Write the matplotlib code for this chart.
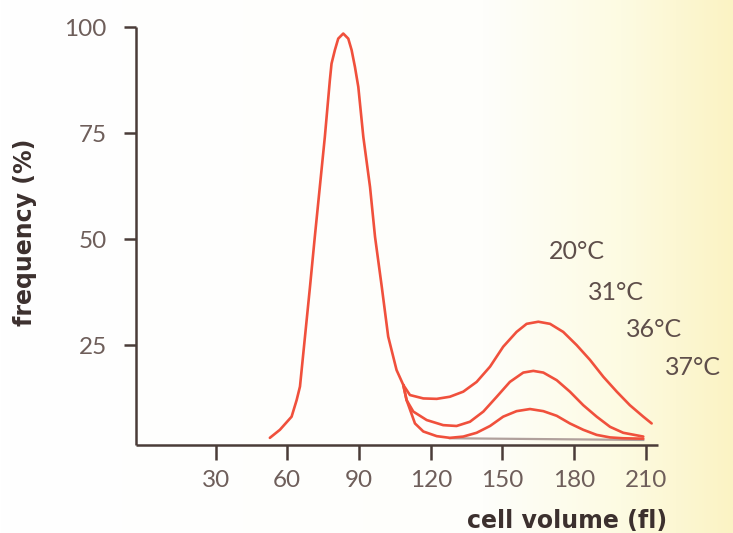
import numpy as np
import matplotlib.pyplot as plt
from matplotlib.colors import LinearSegmentedColormap

# shared main peak (all temperatures), cell volume (fl) vs frequency (%)
peak_x = [52.7, 56.9, 61.8, 63.9, 65.3, 67.4, 69.5, 71.5, 73.6, 75.7, 77.8, 78.5,
          79.9, 81.3, 83.4, 85.5, 86.9, 88.3, 89.7, 91.8, 94.6, 96.7, 99.5,
          102.2, 105.7, 108.5]
peak_y = [3.1, 5.0, 8.1, 12.0, 15.2, 27.0, 38.8, 50.5, 62.3, 74.1, 87.5, 91.4,
          94.6, 97.3, 98.5, 97.3, 94.6, 90.6, 85.9, 74.1, 62.3, 50.5, 38.8,
          27.0, 19.1, 15.6]

# second peak for each temperature
t20_x = [108.5, 111.3, 116.9, 122.5, 128.0, 133.6, 139.2, 144.8, 150.3, 155.9,
         160.1, 165.0, 169.9, 175.4, 181.0, 186.6, 192.2, 197.8, 203.3, 208.9, 212.4]
t20_y = [15.6, 13.2, 12.4, 12.3, 12.8, 14.0, 16.3, 19.9, 24.6, 28.1,
         30.0, 30.5, 30.0, 28.1, 25.0, 21.5, 17.5, 14.0, 10.8, 8.1, 6.5]
t31_x = [108.5, 109.9, 112.7, 118.3, 125.2, 130.8, 136.4, 142.0, 147.6, 153.1,
         158.7, 162.9, 167.1, 172.7, 178.2, 183.8, 189.4, 195.0, 200.5, 208.9]
t31_y = [15.6, 12.0, 9.3, 7.3, 6.1, 5.9, 6.9, 9.3, 12.8, 16.3,
         18.5, 18.9, 18.5, 16.7, 14.0, 10.8, 8.1, 5.7, 4.3, 3.4]
t36_x = [108.5, 109.9, 113.4, 116.9, 122.5, 128.0, 133.6, 139.2, 144.8, 150.3,
         155.9, 161.5, 167.1, 172.7, 178.2, 183.8, 189.4, 195.0, 200.5, 208.9]
t36_y = [15.6, 12.0, 6.5, 4.6, 3.5, 3.1, 3.4, 4.3, 5.9, 8.1,
         9.4, 9.9, 9.4, 8.3, 6.5, 5.0, 3.8, 3.2, 3.0, 2.9]
t37_x = [128.0, 208.9]
t37_y = [3.0, 2.6]

temps = ['20°C', '31°C', '36°C', '37°C']
xticks = [30, 60, 90, 120, 150, 180, 210]
yticks = [25, 50, 75, 100]

red = '#f0503c'
spine_col = '#4a3c38'
tick_col = '#6e5e5a'

fig = plt.figure(figsize=(7.33, 5.33), dpi=100)

# white background turning pale yellow on the right
bg = fig.add_axes([0, 0, 1, 1], zorder=-1)
cmap = LinearSegmentedColormap.from_list(
    'bg', [(0, '#ffffff'), (0.66, '#fefefb'), (0.85, '#fdfbe2'), (1, '#fbf3c4')])
grad = np.linspace(0, 1, 256)[None, :]
bg.imshow(grad, aspect='auto', cmap=cmap, extent=[0, 1, 0, 1])
bg.axis('off')

ax = fig.add_axes([0.1855, 0.165, 0.712, 0.784])
ax.patch.set_alpha(0)

ax.plot(t37_x, t37_y, color='#b0a09c', lw=1.6)
for xs, ys in [(t36_x, t36_y), (t31_x, t31_y), (t20_x, t20_y), (peak_x, peak_y)]:
    ax.plot(xs, ys, color=red, lw=1.9, solid_capstyle='round',
            solid_joinstyle='round', clip_on=False)

ax.set_xlim(-3.3, 215)
ax.set_ylim(1.4, 100)
ax.spines['top'].set_visible(False)
ax.spines['right'].set_visible(False)
for s in ['left', 'bottom']:
    ax.spines[s].set_color(spine_col)
    ax.spines[s].set_linewidth(1.8)
    ax.spines[s].set_capstyle('butt')

ax.set_xticks(xticks)
ax.set_yticks(yticks)
ax.tick_params(axis='x', length=11, width=1.8, color=spine_col, labelcolor=tick_col,
               labelsize=17.5, pad=7)
ax.tick_params(axis='y', length=9, width=1.8, color=spine_col, labelcolor=tick_col,
               labelsize=17.5, pad=12)
for lab in ax.get_xticklabels() + ax.get_yticklabels():
    lab.set_family('Lato')

fig.text(0.034, 0.565, 'frequency (%)', rotation=90, ha='center', va='center',
         fontsize=17, fontweight='bold', color='#3c302e', family='DejaVu Sans')
fig.text(0.910, 0.022, 'cell volume (fl)', ha='right', va='center',
         fontsize=17, fontweight='bold', color='#3c302e', family='DejaVu Sans')

label_pos = [(0.787, 0.528), (0.840, 0.452), (0.892, 0.381), (0.945, 0.310)]
for t, (px, py) in zip(temps, label_pos):
    fig.text(px, py, t, ha='center', va='center', fontsize=18, color='#5e4e4a', family='Lato')

fig.savefig('out.png', dpi=100)
